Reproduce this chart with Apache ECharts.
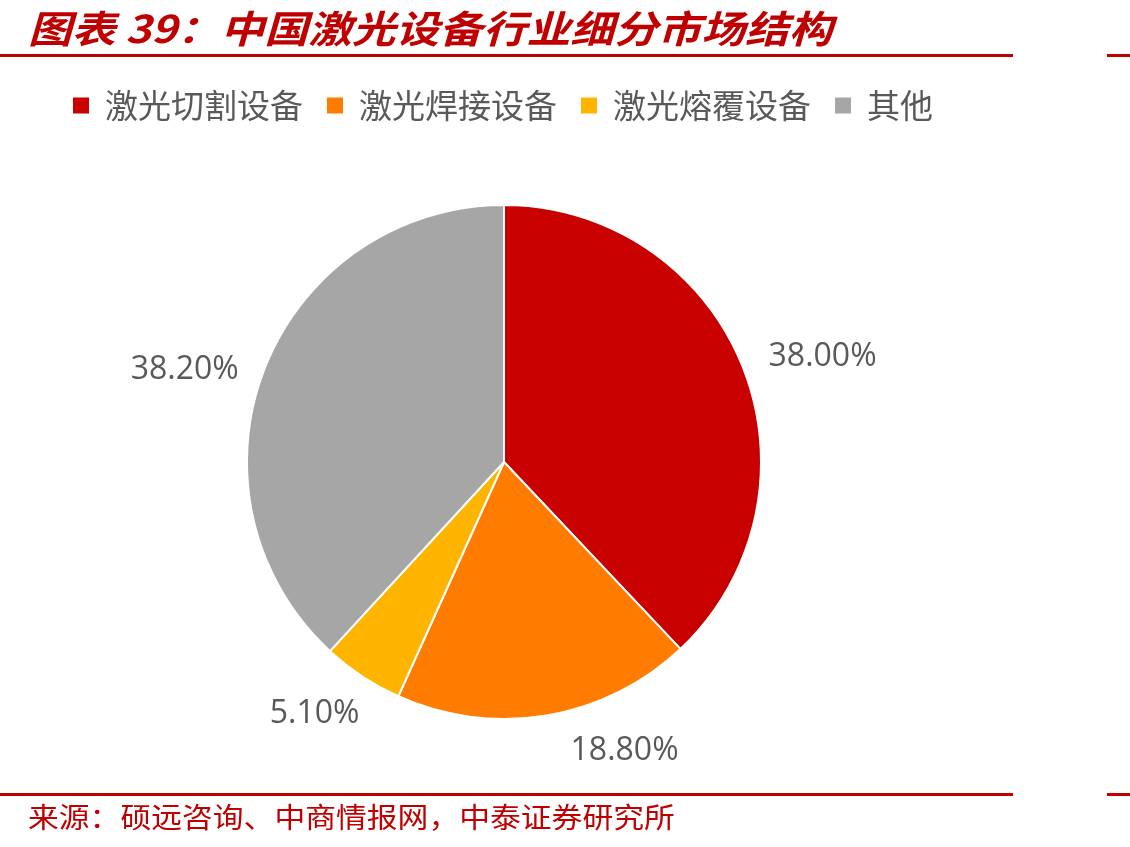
<!DOCTYPE html>
<html>
<head>
<meta charset="utf-8">
<script src="https://cdn.jsdelivr.net/npm/echarts@6/dist/echarts.min.js"></script>
<style>
  html, body { margin: 0; padding: 0; background: #fff; }
  #chart { width: 1130px; height: 847px; }
</style>
</head>
<body>
<div id="chart"></div>
<script>
const categories = ['激光切割设备', '激光焊接设备', '激光熔覆设备', '其他']
const shares = [38.0, 18.8, 5.1, 38.2]
const colors = ['#C80000', '#FF7C00', '#FFB400', '#A6A6A6']

const titleText = '图表 39：中国激光设备行业细分市场结构'
const sourceText = '来源：硕远咨询、中商情报网，中泰证券研究所'

const red = '#C00000'
const cjk = '"Noto Sans CJK SC", sans-serif'

const chart = echarts.init(document.getElementById('chart'))

chart.setOption({
  animation: false,
  color: colors,
  legend: {
    left: 66,
    top: 84,
    itemWidth: 18,
    itemHeight: 18,
    itemGap: 22,
    icon: 'rect',
    textStyle: {
      fontFamily: cjk,
      fontSize: 33,
      color: '#595959',
      padding: [0, 0, 0, 10]
    },
    data: categories
  },
  graphic: [
    {
      type: 'text',
      x: 28,
      y: 29,
      scaleX: 1.15,
      style: {
        text: titleText,
        fill: red,
        font: 'italic bold 38px ' + cjk,
        textAlign: 'left',
        textVerticalAlign: 'middle'
      }
    },
    { type: 'rect', shape: { x: 0, y: 54, width: 1013, height: 3 }, style: { fill: red } },
    { type: 'rect', shape: { x: 1107, y: 54, width: 23, height: 3 }, style: { fill: red } },
    { type: 'rect', shape: { x: 0, y: 793, width: 1013, height: 3 }, style: { fill: red } },
    { type: 'rect', shape: { x: 1107, y: 793, width: 23, height: 3 }, style: { fill: red } },
    {
      type: 'text',
      x: 28,
      y: 817,
      scaleX: 1.1,
      style: {
        text: sourceText,
        fill: red,
        font: '28px ' + cjk,
        textAlign: 'left',
        textVerticalAlign: 'middle'
      }
    }
  ],
  series: [
    {
      type: 'pie',
      center: [504, 462],
      radius: 257,
      startAngle: 90,
      clockwise: true,
      itemStyle: {
        borderColor: '#fff',
        borderWidth: 2
      },
      label: {
        show: true,
        position: 'outside',
        fontFamily: '"Open Sans", sans-serif',
        fontSize: 32,
        color: '#595959',
        formatter: (p) => p.value.toFixed(2) + '%'
      },
      labelLine: {
        show: false,
        length: 18,
        length2: 4
      },
      // the two lower labels sit a little further out in the original
      labelLayout: (params) => {
        if (params.dataIndex === 0) return { dy: -4 }
        if (params.dataIndex === 1) return { dx: 12, dy: 18 }
        if (params.dataIndex === 2) return { dx: 16, dy: 22 }
        return { dy: 8 }
      },
      data: categories.map((name, i) => ({ name, value: shares[i] }))
    }
  ]
})
</script>
</body>
</html>
